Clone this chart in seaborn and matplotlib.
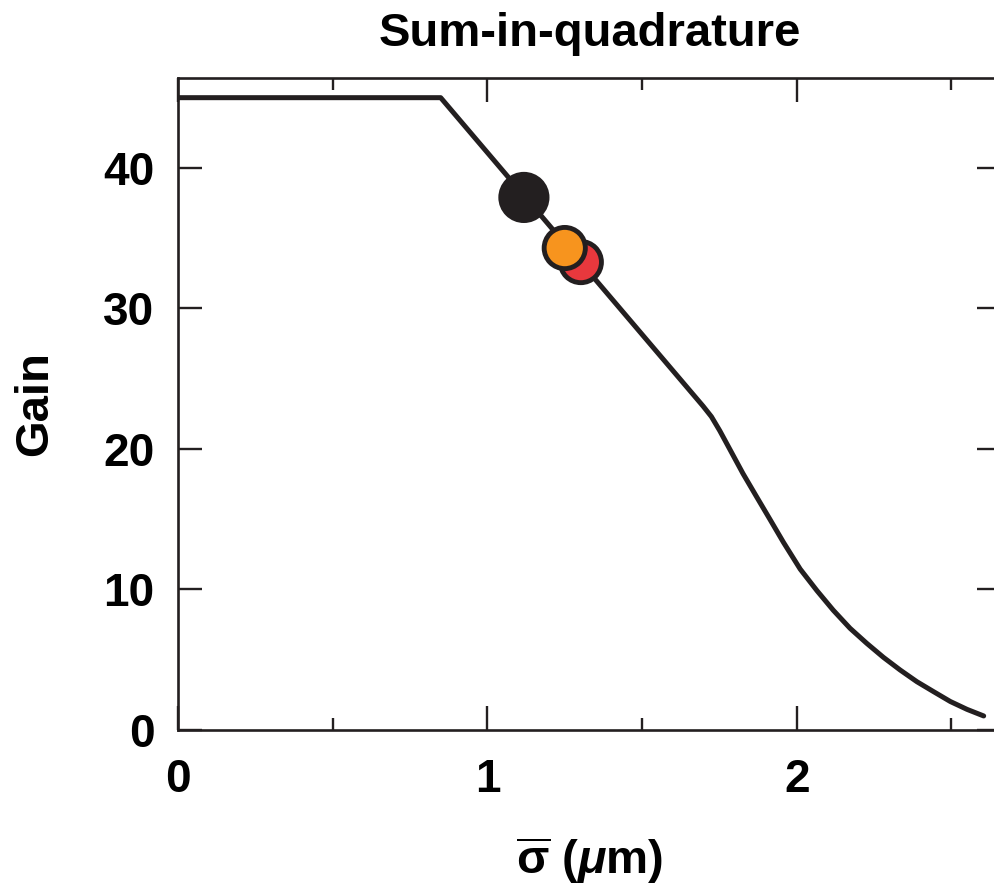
import matplotlib
matplotlib.use("Agg")
import matplotlib.pyplot as plt
from matplotlib.ticker import MultipleLocator
import seaborn as sns

# Gain versus mean roughness (sum-in-quadrature model)
sigma_um = [0.0, 0.849, 1.697, 1.724, 1.751, 1.783, 1.826,
            1.870, 1.913, 1.957, 2.011, 2.065, 2.118, 2.172, 2.226, 2.280,
            2.334, 2.388, 2.442, 2.496, 2.550, 2.604]
gain = [45.0, 45.0, 23.05, 22.3, 21.3, 20.0, 18.25,
        16.6, 15.0, 13.35, 11.45, 9.92, 8.52, 7.24, 6.17, 5.17,
        4.27, 3.44, 2.73, 2.03, 1.47, 1.0]

# Measured samples (drawn in this order, orange above red)
sample_names = ["black", "red", "orange"]
sample_sigma = [1.118, 1.302, 1.250]
sample_gain = [37.9, 33.3, 34.3]
sample_colors = {"black": "#231f20", "red": "#e8383d", "orange": "#f7941e"}
sample_sizes = {"black": 1110, "red": 880, "orange": 880}

x_limits = (0, 2.66)
y_limits = (0, 46.4)

INK = "#231f20"
FONT = ["Liberation Sans", "DejaVu Sans"]

sns.set_style("ticks")
plt.rcParams["font.family"] = FONT
plt.rcParams["font.weight"] = "bold"
plt.rcParams["mathtext.fontset"] = "custom"
plt.rcParams["mathtext.rm"] = "Liberation Sans:bold"
plt.rcParams["mathtext.it"] = "Liberation Sans:italic:bold"
plt.rcParams["mathtext.bf"] = "Liberation Sans:bold"

fig = plt.figure(figsize=(9.94, 8.84), dpi=100)
ax = fig.add_axes([178 / 994, 154 / 884, 823 / 994, 652 / 884])

sns.lineplot(x=sigma_um, y=gain, sort=False, color=INK, linewidth=3.6,
             ax=ax, legend=False)
for ln in ax.get_lines():
    ln.set_solid_joinstyle("round")
sns.scatterplot(x=sample_sigma, y=sample_gain, hue=sample_names,
                palette=sample_colors, size=sample_names, sizes=sample_sizes,
                edgecolor=INK, linewidth=3.5, alpha=1, ax=ax, legend=False,
                zorder=3)

ax.set_xlim(*x_limits)
ax.set_ylim(*y_limits)
ax.xaxis.set_major_locator(MultipleLocator(1))
ax.xaxis.set_minor_locator(MultipleLocator(0.5))
ax.yaxis.set_major_locator(MultipleLocator(10))

for side in ax.spines.values():
    side.set_linewidth(1.9)
    side.set_color(INK)

ax.tick_params(which="both", direction="in", top=True, right=True,
               color=INK, width=1.7)
ax.tick_params(which="major", length=17.3)
ax.tick_params(which="minor", length=8.6)
ax.tick_params(axis="x", which="major", pad=20, labelsize=33)
ax.tick_params(axis="y", which="major", pad=17, labelsize=33)
for lab in ax.get_xticklabels() + ax.get_yticklabels():
    lab.set_fontweight("bold")
    lab.set_color("black")

ax.set_title("Sum-in-quadrature", fontsize=34, fontweight="bold", pad=22.7,
             color="black")
ax.set_ylabel("Gain", fontsize=34, fontweight="bold", labelpad=33,
              color="black")
ax.set_xlabel(r"$\overline{\mathrm{\sigma}}$ ($\mu$m)", fontsize=34,
              fontweight="bold", labelpad=24, color="black")

fig.savefig("out.png", dpi=100)
